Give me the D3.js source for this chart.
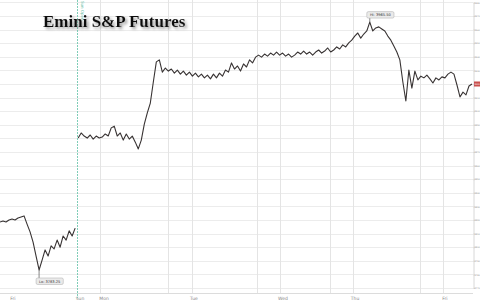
<!DOCTYPE html>
<html>
<head>
<meta charset="utf-8">
<script src="https://cdn.jsdelivr.net/npm/d3@7"></script>
<style>
  html, body { margin: 0; padding: 0; background: #fff; }
  svg { display: block; }
</style>
</head>
<body>
<div id="chart"></div>
<script>
// friday session (before the weekend break)
let fridayPrices = [
  3818.5, 3819.25, 3818.5, 3820, 3820.75, 3820, 3821.5, 3822.25, 3823, 3817,
  3811.25, 3803.75, 3793.5, 3783.25, 3790.5, 3798, 3793.5, 3801, 3798.75, 3805.25,
  3800, 3808.25, 3805.25, 3812, 3808.25, 3814
];
// sunday open -> friday
let weekPrices = [
  3880.25, 3884, 3881.75, 3880.25, 3882.5, 3879.5, 3881.75, 3880.25, 3881, 3883.25,
  3881.75, 3887.75, 3889, 3881.75, 3884, 3878.75, 3883.25, 3879.5, 3881.75, 3877.25,
  3872.25, 3878.75, 3890.5, 3898.75, 3906, 3921.5, 3936.25, 3937.75, 3928.75, 3931.75,
  3929.5, 3931, 3928, 3930.25, 3927.25, 3929.5, 3926.5, 3928.75, 3925.75, 3928,
  3925.25, 3927.25, 3924.5, 3926.5, 3923.75, 3927.25, 3924.5, 3928, 3925.75, 3930.25,
  3928.75, 3935.5, 3931, 3933.25, 3929.5, 3934.75, 3932.5, 3937.75, 3935.5, 3939.75,
  3941.25, 3939.75, 3942, 3940.5, 3942.75, 3941.25, 3943.5, 3941.25, 3942.75, 3940.5,
  3942, 3939.75, 3941.25, 3943.5, 3942, 3944.25, 3942, 3943.5, 3941.25, 3943.5,
  3945, 3942.75, 3944.25, 3946.5, 3943.5, 3945, 3947.25, 3945.75, 3948.75, 3947.25,
  3950.25, 3952.25, 3955.25, 3957.5, 3953.75, 3956.75, 3959, 3965.5, 3959, 3961.25,
  3962, 3960.5, 3959, 3955.25, 3952.25, 3948, 3943.5, 3937.75, 3921.5, 3907.5,
  3930.25, 3917, 3929.5, 3923, 3925.75, 3924.5, 3926.5, 3923.75, 3920.75, 3924.5,
  3923, 3925.25, 3924.5, 3927.25, 3928.75, 3927.25, 3919.25, 3910.5, 3914, 3912,
  3918.5, 3920
];
// day labels on the time axis (bar index)
let dayLabels = ['Fri', 'Sun', 'Mon', 'Tue', 'Wed', 'Thu', 'Fri'];
let dayLabelAt = [4.3, 26.6, 34.6, 64.5, 94.1, 118.1, 148];
// vertical grid (bar index)
let gridAt = [33.3, 55.9, 63.9, 85.5, 93.1, 109.8, 117.4, 139.7, 147.4];
let sessionBreakAt = 25.5;
// price ticks
let priceTicks = d3.range(3770, 3981, 10);

let width = 480, height = 305;
let plotRight = 473, axisY = 293;
let n = fridayPrices.length + weekPrices.length;

let data = fridayPrices.map((p, i) => ({i: i, p: p}));
let data2 = weekPrices.map((p, i) => ({i: i + fridayPrices.length, p: p}));
let all = data.concat(data2);

let x = d3.scaleLinear().domain([0, n - 1]).range([0, 472]);
let y = d3.scaleLinear().domain([3770, 3980]).range([288, 288 - 21 * 13.6]);

let svg = d3.select('#chart').append('svg')
  .attr('width', width)
  .attr('height', height);

let defs = svg.append('defs');
defs.append('filter').attr('id', 'shadow')
  .attr('x', '-10%').attr('y', '-30%').attr('width', '130%').attr('height', '170%')
  .append('feDropShadow')
  .attr('dx', 2).attr('dy', 2).attr('stdDeviation', 1.5)
  .attr('flood-color', '#777').attr('flood-opacity', 0.75);

// horizontal grid
svg.append('g')
  .selectAll('line')
  .data(priceTicks)
  .enter().append('line')
  .attr('x1', 0).attr('x2', plotRight)
  .attr('y1', d => Math.round(y(d)) + 0.5)
  .attr('y2', d => Math.round(y(d)) + 0.5)
  .attr('stroke', '#ececec');

// vertical grid
svg.append('g')
  .selectAll('line')
  .data(gridAt)
  .enter().append('line')
  .attr('x1', d => Math.round(x(d)) + 0.5)
  .attr('x2', d => Math.round(x(d)) + 0.5)
  .attr('y1', 0).attr('y2', axisY)
  .attr('stroke', '#e4e4e4');

// weekend session break
svg.append('line')
  .attr('x1', Math.round(x(sessionBreakAt)) + 0.5)
  .attr('x2', Math.round(x(sessionBreakAt)) + 0.5)
  .attr('y1', 0).attr('y2', axisY + 5)
  .attr('stroke', '#7fcdb8')
  .attr('stroke-dasharray', '2,1');
svg.append('text')
  .attr('transform', 'translate(' + (x(sessionBreakAt) + 4) + ',1) rotate(90)')
  .attr('font-family', 'DejaVu Sans')
  .attr('font-size', 4)
  .attr('fill', '#6fbfa8')
  .text('Sun Open');

// right price axis, tiny labels squeezed into the last few pixels
let yAxis = d3.axisRight(y).tickValues(priceTicks).tickSize(1).tickFormat(d3.format('d'));
let ya = svg.append('g')
  .attr('transform', 'translate(' + (plotRight + 0.5) + ',0)')
  .call(yAxis);
ya.select('.domain').attr('stroke', '#d8d8d8');
ya.selectAll('.tick line').attr('stroke', '#ccc');
ya.selectAll('.tick text')
  .attr('x', 1)
  .attr('font-family', 'DejaVu Sans')
  .attr('font-size', 2.1)
  .attr('fill', '#888');

// bottom time axis
svg.append('line')
  .attr('x1', 0).attr('x2', plotRight)
  .attr('y1', axisY + 0.5).attr('y2', axisY + 0.5)
  .attr('stroke', '#dcdcdc');
svg.append('g')
  .selectAll('text')
  .data(dayLabels)
  .enter().append('text')
  .attr('x', (d, i) => x(dayLabelAt[i]))
  .attr('y', 299.5)
  .attr('text-anchor', 'middle')
  .attr('font-family', 'DejaVu Sans')
  .attr('font-size', 4.5)
  .attr('fill', '#888')
  .text(d => d);

// price line (two sessions, no joint over the weekend)
let line = d3.line().x(d => x(d.i)).y(d => y(d.p));
[data, data2].forEach(function (seg) {
  svg.append('path')
    .datum(seg)
    .attr('d', line)
    .attr('fill', 'none')
    .attr('stroke', '#383333')
    .attr('stroke-width', 1.1)
    .attr('stroke-linejoin', 'round');
});

// hi / lo flags
let hi = all.reduce((a, b) => (b.p > a.p ? b : a));
let lo = all.reduce((a, b) => (b.p < a.p ? b : a));

function flag(pt, txt, up) {
  let px = x(pt.i), py = y(pt.p);
  let bw = txt.length * 2.2 + 3, bh = 6.5;
  let by = up ? py - 4 - bh : py + 8;
  let g = svg.append('g');
  g.append('line')
    .attr('x1', px).attr('x2', px)
    .attr('y1', py).attr('y2', up ? by + bh : by)
    .attr('stroke', '#555').attr('stroke-width', 0.7);
  g.append('rect')
    .attr('x', px - 3).attr('y', by)
    .attr('width', bw).attr('height', bh)
    .attr('rx', 1.5)
    .attr('fill', '#eaeaea').attr('stroke', '#aaa').attr('stroke-width', 0.5);
  g.append('text')
    .attr('x', px - 3 + bw / 2).attr('y', by + 4.7)
    .attr('text-anchor', 'middle')
    .attr('font-family', 'DejaVu Sans')
    .attr('font-size', 3.6)
    .attr('fill', '#333')
    .text(txt);
}
flag(hi, 'Hi: ' + d3.format('.2f')(hi.p), true);
flag(lo, 'Lo: ' + d3.format('.2f')(lo.p), false);

// last price marker
let last = weekPrices[weekPrices.length - 1];
svg.append('rect')
  .attr('x', plotRight + 1).attr('y', y(last) - 2.5)
  .attr('width', 7).attr('height', 5)
  .attr('fill', '#c9504e');
svg.append('text')
  .attr('x', plotRight + 1.5).attr('y', y(last) + 0.8)
  .attr('font-family', 'DejaVu Sans')
  .attr('font-size', 2.1)
  .attr('fill', '#fff')
  .text(d3.format('d')(last));

// title
svg.append('text')
  .attr('x', 43).attr('y', 27)
  .attr('font-family', 'Liberation Serif')
  .attr('font-weight', 'bold')
  .attr('font-size', 17)
  .attr('fill', '#111')
  .attr('filter', 'url(#shadow)')
  .text('Emini S&P Futures');
</script>
</body>
</html>
